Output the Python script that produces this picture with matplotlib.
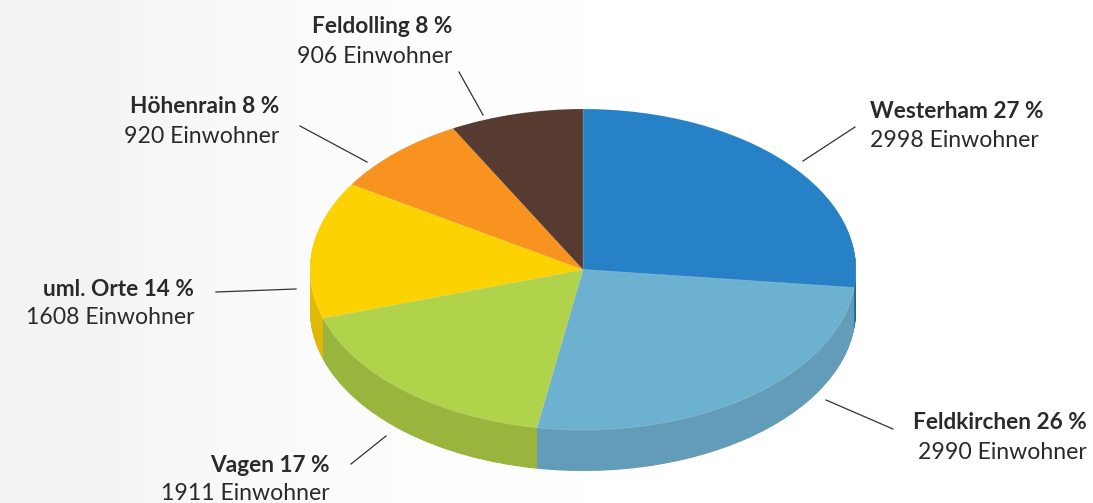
import numpy as np
import matplotlib
matplotlib.use("Agg")
import matplotlib.pyplot as plt
from matplotlib.lines import Line2D

names = ["Westerham", "Feldkirchen", "Vagen", "uml. Orte", "Höhenrain", "Feldolling"]
label_shares = [27, 26, 17, 14, 8, 8]
slice_shares = [26.8, 25.9, 17.4, 13.8, 8.2, 7.9]
residents = [2998, 2990, 1911, 1608, 920, 906]
top_colors = ["#2781C7", "#6DB1D1", "#B1D34B", "#FCD200", "#F7931E", "#573A30"]
side_colors = ["#1F6396", "#629CB8", "#9AB53E", "#E0B908", "#C97A18", "#45302A"]

W, H = 1093, 503
CX, CY, RX, RY, DEPTH = 583, 269.5, 273, 160.5, 41
plt.rcParams["font.family"] = ["Lato", "DejaVu Sans"]
fig = plt.figure(figsize=(W / 100, H / 100), dpi=100)

bg = fig.add_axes([0, 0, 1, 1], zorder=0)
bg.imshow(np.array([[0.95, 0.975, 0.988, 0.995, 1.0, 1.0, 1.0]]), cmap="gray", vmin=0, vmax=1,
          aspect="auto", interpolation="bilinear", extent=[0, 1, 0, 1])
bg.set_axis_off()

ax = fig.add_axes([0, 0, 1, 1], zorder=1)
for d in np.arange(DEPTH, 0, -0.5):
    ax.pie(slice_shares, colors=side_colors, startangle=90, counterclock=False, radius=1,
           center=(0, -d / RY), wedgeprops=dict(linewidth=0))
wedges, _ = ax.pie(slice_shares, colors=top_colors, startangle=90, counterclock=False, radius=1,
                   center=(0, 0), wedgeprops=dict(linewidth=0.5, edgecolor=(1, 1, 1, 0.2)))
ax.set_aspect("auto")
ax.set_xlim((0 - CX) / RX, (W - CX) / RX)
ax.set_ylim((CY - H) / RY, CY / RY)
ax.set_axis_off()
ax.patch.set_alpha(0)

def fx(x):
    return x / W
def fy(y):
    return 1 - y / H

# label anchor: x, ha, baseline y of bold line, baseline y of regular line
label_pos = [(870, "left", 118, 147), (1087, "right", 429, 459), (330, "right", 472, 500),
             (194, "right", 296, 324), (279, "right", 113, 143), (452, "right", 33, 63)]
leaders = [((803, 161), (855, 127)), ((826, 400), (893, 429)), ((351, 464), (386, 436)),
           ((216, 292), (296, 289)), ((300, 126), (367, 162)), ((459, 72), (483, 115))]
ink = "#2B2A29"
for n, s, r, (x, ha, y1, y2) in zip(names, label_shares, residents, label_pos):
    fig.text(fx(x), fy(y1), f"{n} {s} %", ha=ha, va="baseline", fontsize=16.3, fontweight="bold",
             color=ink, zorder=5)
    fig.text(fx(x), fy(y2), f"{r} Einwohner", ha=ha, va="baseline", fontsize=16.6, color=ink, zorder=5)
for (a, b) in leaders:
    fig.add_artist(Line2D([fx(a[0]), fx(b[0])], [fy(a[1]), fy(b[1])], color="#333333", lw=0.9,
                          transform=fig.transFigure, zorder=4))

fig.savefig("out.png", dpi=100)
